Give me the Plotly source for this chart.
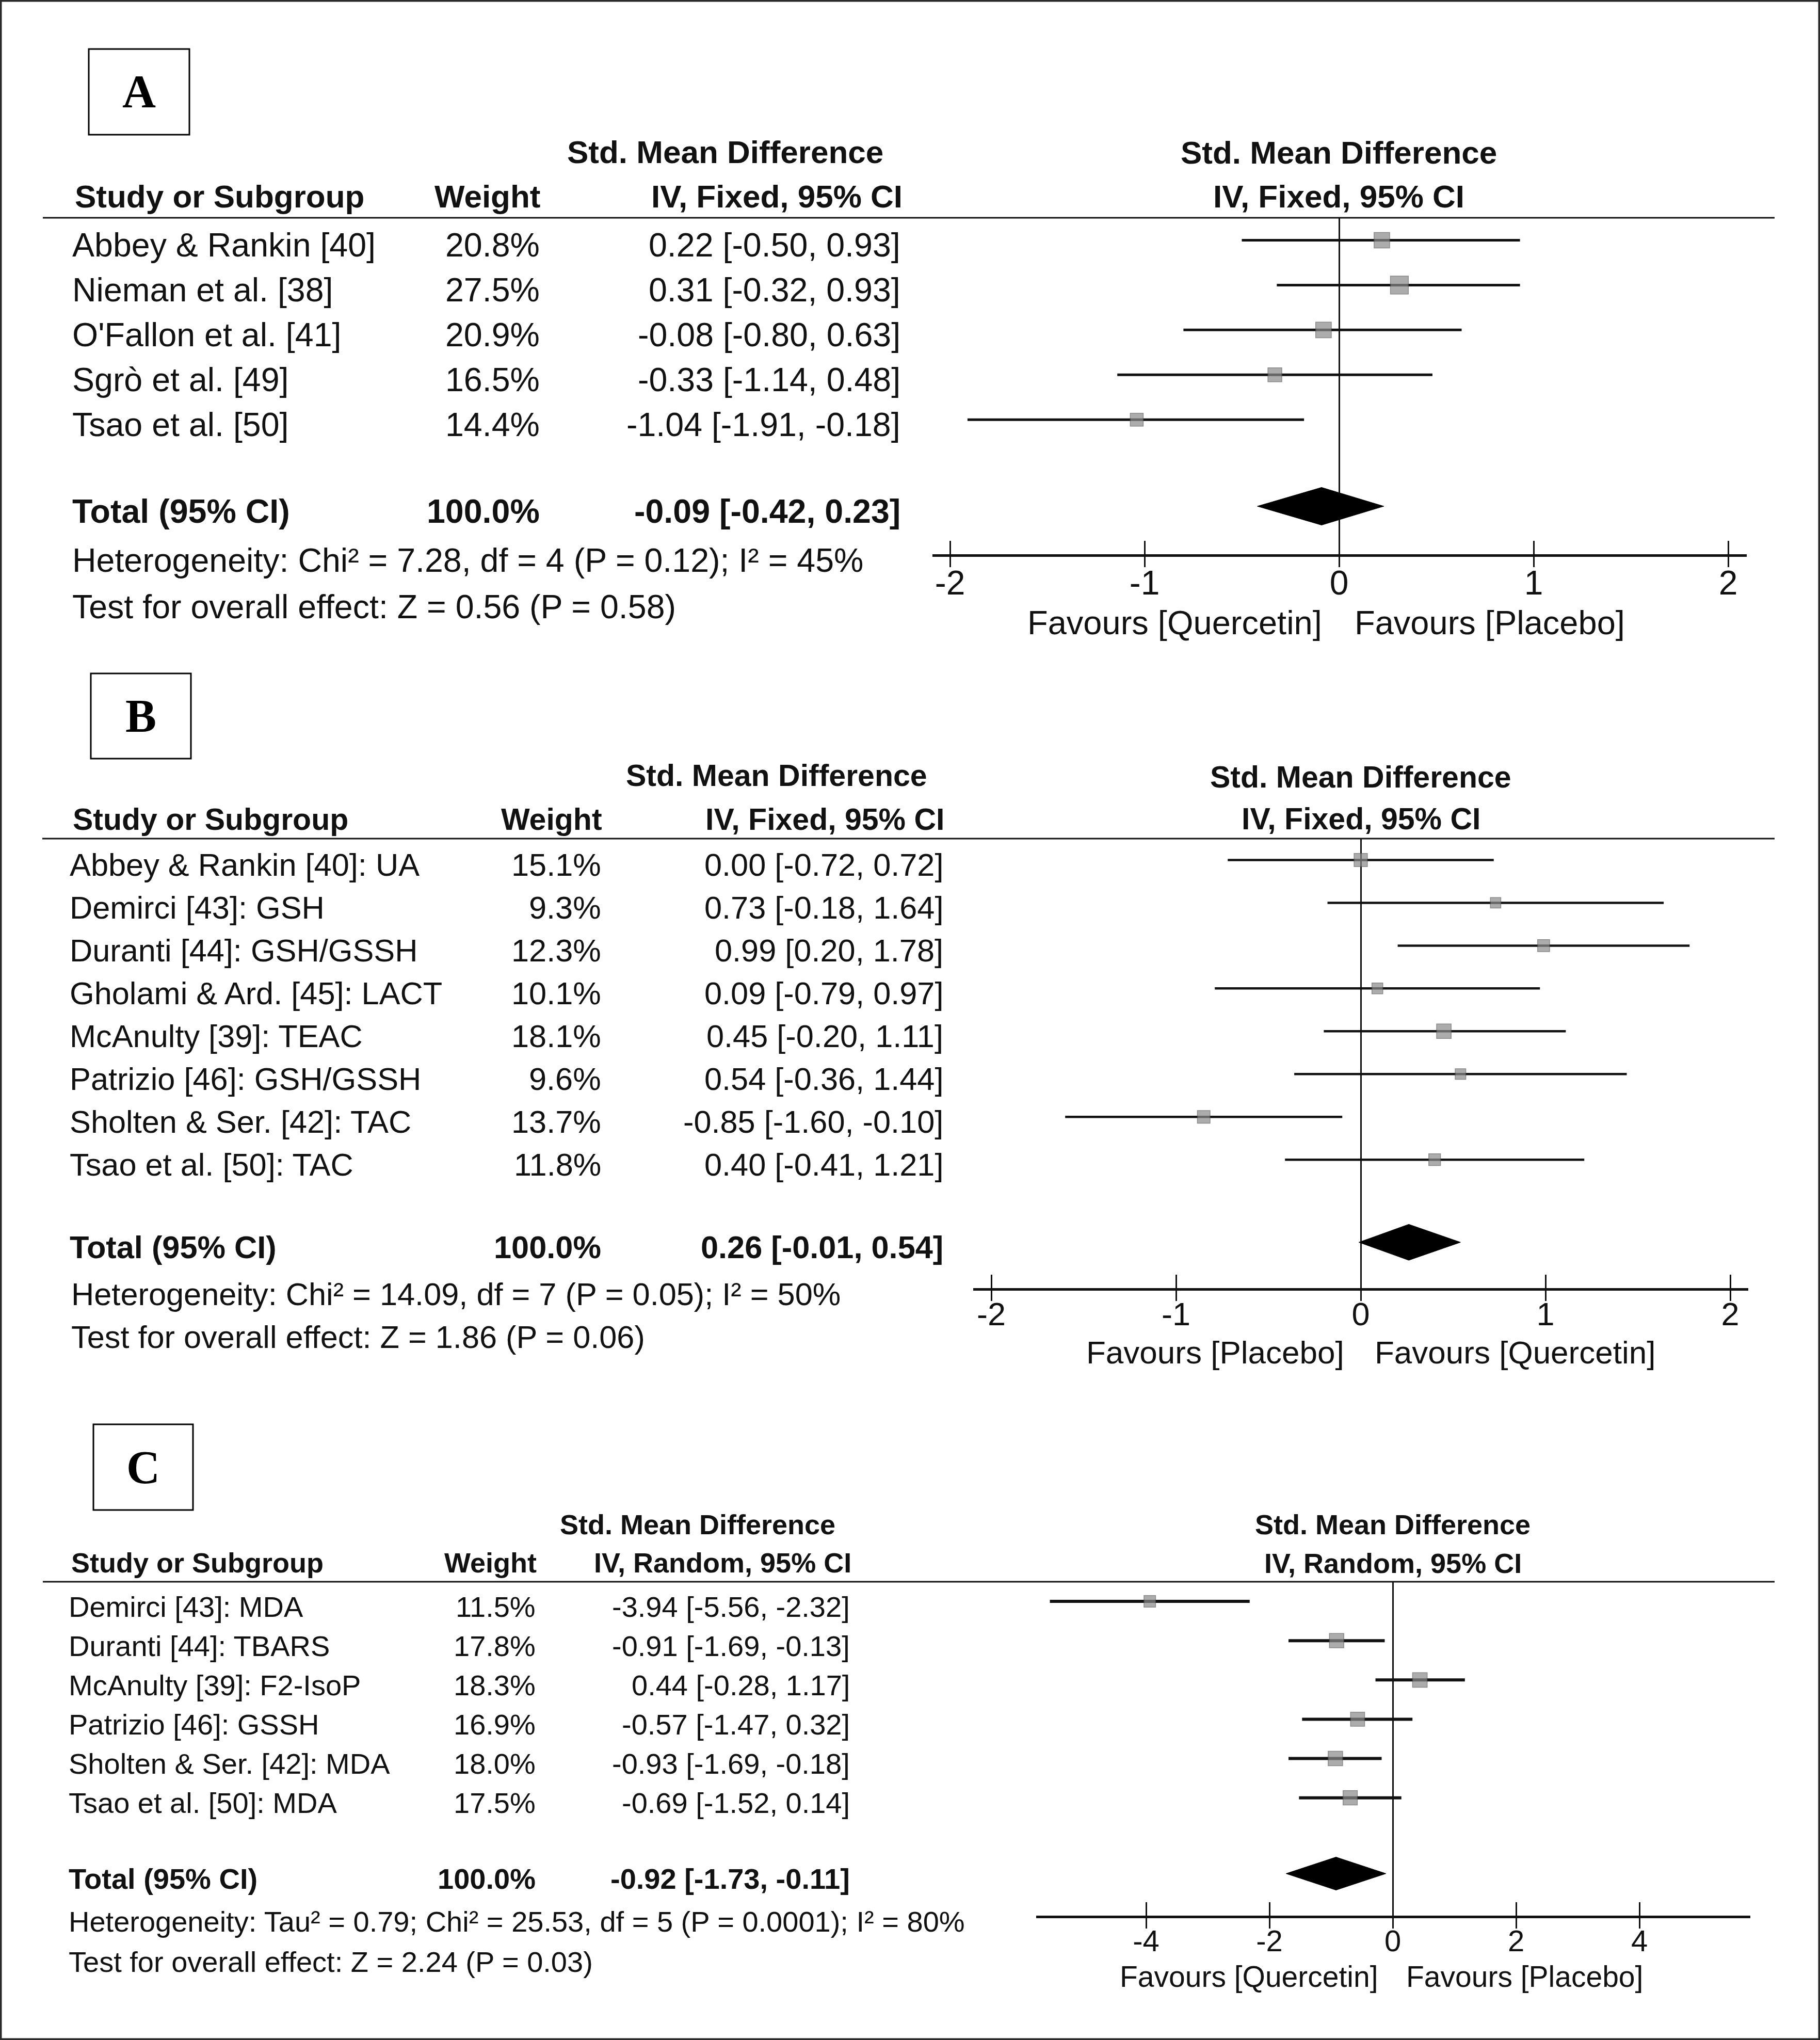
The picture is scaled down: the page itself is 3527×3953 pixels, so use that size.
import plotly.graph_objects as go
import math

W, H = 3527, 3953

# ---------------- Panel A data ----------------
a_names = ["Abbey & Rankin [40]", "Nieman et al. [38]", "O'Fallon et al. [41]", "Sgrò et al. [49]", "Tsao et al. [50]"]
a_weights = [20.8, 27.5, 20.9, 16.5, 14.4]
a_smd = [0.22, 0.31, -0.08, -0.33, -1.04]
a_lo = [-0.50, -0.32, -0.80, -1.14, -1.91]
a_hi = [0.93, 0.93, 0.63, 0.48, -0.18]
a_total = [-0.09, -0.42, 0.23]
a_het = "Heterogeneity: Chi² = 7.28, df = 4 (P = 0.12); I² = 45%"
a_test = "Test for overall effect: Z = 0.56 (P = 0.58)"
a_method = "IV, Fixed, 95% CI"
a_ticks = [-2, -1, 0, 1, 2]
a_favours = ["Favours [Quercetin]", "Favours [Placebo]"]

# ---------------- Panel B data ----------------
b_names = ["Abbey & Rankin [40]: UA", "Demirci [43]: GSH", "Duranti [44]: GSH/GSSH", "Gholami & Ard. [45]: LACT",
           "McAnulty [39]: TEAC", "Patrizio [46]: GSH/GSSH", "Sholten & Ser. [42]: TAC", "Tsao et al. [50]: TAC"]
b_weights = [15.1, 9.3, 12.3, 10.1, 18.1, 9.6, 13.7, 11.8]
b_smd = [0.00, 0.73, 0.99, 0.09, 0.45, 0.54, -0.85, 0.40]
b_lo = [-0.72, -0.18, 0.20, -0.79, -0.20, -0.36, -1.60, -0.41]
b_hi = [0.72, 1.64, 1.78, 0.97, 1.11, 1.44, -0.10, 1.21]
b_total = [0.26, -0.01, 0.54]
b_het = "Heterogeneity: Chi² = 14.09, df = 7 (P = 0.05); I² = 50%"
b_test = "Test for overall effect: Z = 1.86 (P = 0.06)"
b_method = "IV, Fixed, 95% CI"
b_ticks = [-2, -1, 0, 1, 2]
b_favours = ["Favours [Placebo]", "Favours [Quercetin]"]

# ---------------- Panel C data ----------------
c_names = ["Demirci [43]: MDA", "Duranti [44]: TBARS", "McAnulty [39]: F2-IsoP", "Patrizio [46]: GSSH",
           "Sholten & Ser. [42]: MDA", "Tsao et al. [50]: MDA"]
c_weights = [11.5, 17.8, 18.3, 16.9, 18.0, 17.5]
c_smd = [-3.94, -0.91, 0.44, -0.57, -0.93, -0.69]
c_lo = [-5.56, -1.69, -0.28, -1.47, -1.69, -1.52]
c_hi = [-2.32, -0.13, 1.17, 0.32, -0.18, 0.14]
c_total = [-0.92, -1.73, -0.11]
c_het = "Heterogeneity: Tau² = 0.79; Chi² = 25.53, df = 5 (P = 0.0001); I² = 80%"
c_test = "Test for overall effect: Z = 2.24 (P = 0.03)"
c_method = "IV, Random, 95% CI"
c_ticks = [-4, -2, 0, 2, 4]
c_favours = ["Favours [Quercetin]", "Favours [Placebo]"]

total_label = "Total (95% CI)"
total_weight = "100.0%"
header_smd = "Std. Mean Difference"
header_study = "Study or Subgroup"
header_weight = "Weight"

# ---------------- layout (pixel positions) ----------------
panels = [
    dict(letter="A", names=a_names, weights=a_weights, smd=a_smd, lo=a_lo, hi=a_hi, total=a_total,
         het=a_het, test=a_test, method=a_method, ticks=a_ticks, favours=a_favours,
         box=(172, 95, 367, 261), xdom=(1807, 3385), zero=2595, unit=377, ydom=(422, 1074), hline=(83, 3439),
         fs=64.5, hfs=62, tfs=66, ffs=65, lw=5, standoff=-6,
         name_x=138, weight_x=1048, ci_x=1747,
         smd_head=(1405, 294), head_y=381, study_head_x=143, weight_head_x=1050, ci_head_x=1751,
         rhead=(2594, 295, 381), het_pos=(138, 1086, 1176), fav_y=1207, fav_x=(2564, 2623)),
    dict(letter="B", names=b_names, weights=b_weights, smd=b_smd, lo=b_lo, hi=b_hi, total=b_total,
         het=b_het, test=b_test, method=b_method, ticks=b_ticks, favours=b_favours,
         box=(176, 1305, 370, 1470), xdom=(1886, 3388), zero=2637, unit=358, ydom=(1625, 2496), hline=(82, 3439),
         fs=61.3, hfs=59, tfs=63, ffs=62, lw=4.5, standoff=-9,
         name_x=133, weight_x=1167, ci_x=1830,
         smd_head=(1505, 1503), head_y=1588, study_head_x=139, weight_head_x=1169, ci_head_x=1832,
         rhead=(2637, 1506, 1587), het_pos=(136, 2508, 2591), fav_y=2620, fav_x=(2607, 2662)),
    dict(letter="C", names=c_names, weights=c_weights, smd=c_smd, lo=c_lo, hi=c_hi, total=c_total,
         het=c_het, test=c_test, method=c_method, ticks=c_ticks, favours=c_favours,
         box=(181, 2760, 374, 2926), xdom=(2008, 3392), zero=2699, unit=119.5, ydom=(3065, 3712), hline=(83, 3439),
         fs=56, hfs=54, tfs=58, ffs=57, lw=6, standoff=-6,
         name_x=131, weight_x=1040, ci_x=1649,
         smd_head=(1352, 2954), head_y=3028, study_head_x=136, weight_head_x=1042, ci_head_x=1652,
         rhead=(2699, 2954, 3029), het_pos=(131, 3723, 3801), fav_y=3830, fav_x=(2673, 2723)),
]

FONT = "Liberation Sans, Arial, sans-serif"
SERIF = "Liberation Serif, Times New Roman, serif"
INK = "#111111"


def fx(p):
    return p / W


def fy(p):
    return 1 - p / H


fig = go.Figure()
layout = dict(width=W, height=H, margin=dict(l=0, r=0, t=0, b=0), paper_bgcolor="white",
              plot_bgcolor="rgba(0,0,0,0)", showlegend=False)
annotations = []
shapes = []

# outer border
shapes.append(dict(type="rect", xref="paper", yref="paper", x0=0, x1=1, y0=0, y1=1,
                   line=dict(color="#2a2a2a", width=7)))

for k, p in enumerate(panels, start=1):
    s = "" if k == 1 else str(k)
    xa, ya = "x" + s, "y" + s
    ov = str(k + 3)
    n = len(p["names"])
    rows = list(range(n))
    t_row = n + 0.93
    xr = [(p["xdom"][0] - p["zero"]) / p["unit"], (p["xdom"][1] - p["zero"]) / p["unit"]]

    # confidence intervals
    cx, cy = [], []
    for i in rows:
        cx += [p["lo"][i], p["hi"][i], None]
        cy += [i, i, None]
    fig.add_trace(go.Scatter(x=cx, y=cy, xaxis=xa, yaxis=ya, mode="lines",
                             line=dict(color=INK, width=p["lw"]), hoverinfo="skip"))
    # point estimates (area ~ weight)
    fig.add_trace(go.Scatter(x=p["smd"], y=rows, xaxis=xa, yaxis=ya, mode="markers",
                             marker=dict(symbol="square", color="#8a8a8a",
                                         size=[6.6 * math.sqrt(w) for w in p["weights"]],
                                         line=dict(color="#5a5a5a", width=1.5)),
                             hoverinfo="skip"))
    # pooled diamond
    est, lo, hi = p["total"]
    hh = 0.42
    fig.add_trace(go.Scatter(x=[lo, est, hi, est, lo], y=[t_row, t_row - hh, t_row, t_row + hh, t_row],
                             xaxis=xa, yaxis=ya, mode="lines", fill="toself", fillcolor="black",
                             line=dict(color="black", width=1), hoverinfo="skip"))
    # dummy trace for the overlay axis (downward tick halves)
    fig.add_trace(go.Scatter(x=[], y=[], xaxis="x" + ov, yaxis=ya, mode="markers", hoverinfo="skip"))

    dom_x = [fx(p["xdom"][0]), fx(p["xdom"][1])]
    dom_y = [fy(p["ydom"][1]), fy(p["ydom"][0])]
    layout["xaxis" + s] = dict(domain=dom_x, range=xr, anchor=ya, showgrid=False,
                               zeroline=True, zerolinecolor=INK, zerolinewidth=3,
                               showline=True, linecolor=INK, linewidth=5,
                               ticks="inside", ticklen=26, tickwidth=3, tickcolor=INK,
                               tickvals=p["ticks"], ticktext=[str(t) for t in p["ticks"]],
                               tickfont=dict(family=FONT, size=p["tfs"], color=INK),
                               ticklabelstandoff=p["standoff"],
                               fixedrange=True)
    layout["xaxis" + ov] = dict(overlaying=xa, range=xr, anchor=ya, side="bottom", showgrid=False,
                                zeroline=False, showline=False, ticks="outside", ticklen=24, tickwidth=3,
                                tickcolor=INK, tickvals=p["ticks"], showticklabels=False, fixedrange=True)
    layout["yaxis" + s] = dict(domain=dom_y, range=[n + 2, -0.5], anchor=xa, visible=False,
                               fixedrange=True)

    # header rule
    shapes.append(dict(type="line", xref="paper", yref="paper", x0=fx(p["hline"][0]), x1=fx(p["hline"][1]),
                       y0=fy(p["ydom"][0]), y1=fy(p["ydom"][0]), line=dict(color=INK, width=3)))
    # panel letter box
    b = p["box"]
    shapes.append(dict(type="rect", xref="paper", yref="paper", x0=fx(b[0]), x1=fx(b[2]),
                       y0=fy(b[3]), y1=fy(b[1]), line=dict(color="black", width=3)))
    annotations.append(dict(text="<b>%s</b>" % p["letter"], xref="paper", yref="paper",
                            x=fx((b[0] + b[2]) / 2), y=fy((b[1] + b[3]) / 2), xanchor="center", yanchor="middle",
                            showarrow=False, font=dict(family=SERIF, size=90, color="black")))

    def txt(text, x, y, anchor, size, bold=False, yref="paper", yshift=0):
        annotations.append(dict(text=("<b>%s</b>" % text) if bold else text, xref="paper", yref=yref,
                                x=fx(x), y=y if yref != "paper" else fy(y), xanchor=anchor, yanchor="middle",
                                showarrow=False, yshift=yshift,
                                font=dict(family=FONT, size=size, color=INK)))

    # headers
    txt(header_smd, p["smd_head"][0], p["smd_head"][1], "center", p["hfs"], True)
    txt(header_study, p["study_head_x"], p["head_y"], "left", p["hfs"], True)
    txt(header_weight, p["weight_head_x"], p["head_y"], "right", p["hfs"], True)
    txt(p["method"], p["ci_head_x"], p["head_y"], "right", p["hfs"], True)
    txt(header_smd, p["rhead"][0], p["rhead"][1], "center", p["hfs"], True)
    txt(p["method"], p["rhead"][0], p["rhead"][2], "center", p["hfs"], True)

    # study rows
    ysh = -10
    for i in rows:
        txt(p["names"][i], p["name_x"], i, "left", p["fs"], yref=ya, yshift=ysh)
        txt("%.1f%%" % p["weights"][i], p["weight_x"], i, "right", p["fs"], yref=ya, yshift=ysh)
        txt("%.2f [%.2f, %.2f]" % (p["smd"][i], p["lo"][i], p["hi"][i]), p["ci_x"], i, "right", p["fs"],
            yref=ya, yshift=ysh)
    # total row
    txt(total_label, p["name_x"], t_row, "left", p["fs"], True, yref=ya, yshift=ysh)
    txt(total_weight, p["weight_x"], t_row, "right", p["fs"], True, yref=ya, yshift=ysh)
    txt("%.2f [%.2f, %.2f]" % (est, lo, hi), p["ci_x"], t_row, "right", p["fs"], True, yref=ya, yshift=ysh)

    # statistics
    txt(p["het"], p["het_pos"][0], p["het_pos"][1], "left", p["fs"])
    txt(p["test"], p["het_pos"][0], p["het_pos"][2], "left", p["fs"])

    # favours labels
    txt(p["favours"][0], p["fav_x"][0], p["fav_y"], "right", p["ffs"])
    txt(p["favours"][1], p["fav_x"][1], p["fav_y"], "left", p["ffs"])

layout["annotations"] = annotations
layout["shapes"] = shapes
fig.update_layout(**layout)
fig.write_html("out.html", config={"displayModeBar": False},
               post_script="document.body.style.margin='0';")
